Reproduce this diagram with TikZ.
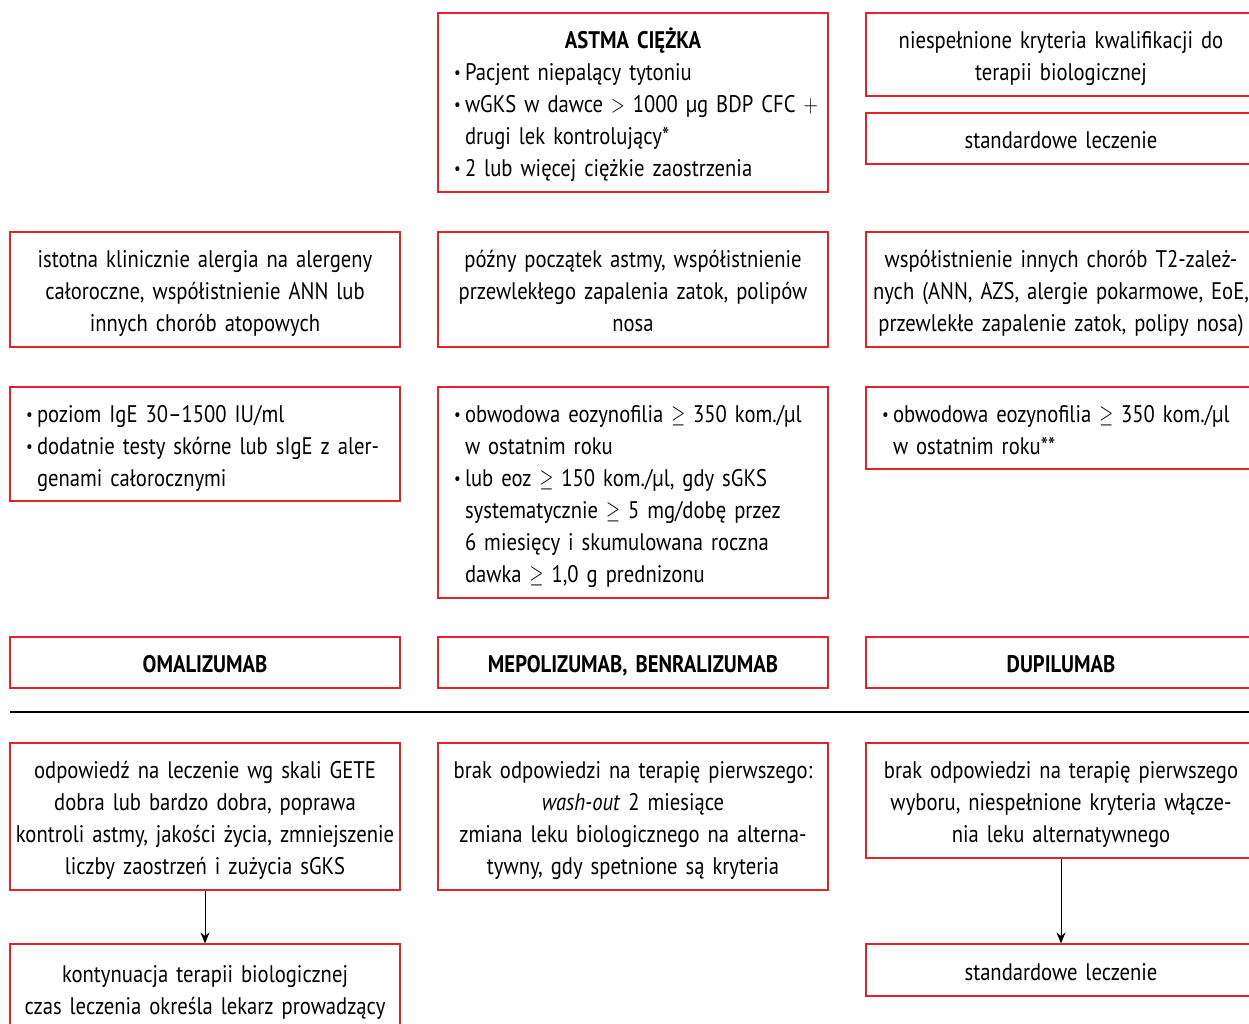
\documentclass[tikz,border=0pt]{standalone}
\usepackage{fontspec}
\setmainfont[FakeStretch=0.86]{PT Sans}
\usetikzlibrary{arrows.meta}
\definecolor{boxred}{RGB}{226,35,42}
\newcommand{\bl}{\hspace*{8pt}\makebox[11pt][l]{\raisebox{1.6pt}{\scalebox{0.72}{•}}}}
\newcommand{\ind}{\hspace*{19pt}}
\newcommand{\mygeq}{\scalebox{0.72}[1]{$\geq$}}
\newcommand{\mygt}{\scalebox{0.72}[1]{$>$}}
\newcommand{\myplus}{\scalebox{0.8}[1]{$+$}}
\newcommand{\st}{\rule{0pt}{26pt}}
\newcommand{\sd}{\rule[-6pt]{0pt}{6pt}}
\newcommand{\tx}[1]{\st#1\sd}
\newcommand{\myfont}{\fontsize{24}{32}\selectfont}
\begin{document}
\begin{tikzpicture}[x=1pt,y=-1pt,
  base/.style={draw=boxred, line width=1.2pt, minimum width=390pt,
    font=\myfont, inner ysep=0pt},
  cbox/.style={base, align=center, text width=380pt, inner xsep=5pt},
  lbox/.style={base, align=left, text width=374pt, inner xsep=8pt},
  arr/.style={-{Stealth[length=11pt,width=9pt]}, line width=1pt}]
\useasboundingbox (0,0) rectangle (1249,1023);
\fill[white] (0,0) rectangle (1249,1023);

% top row
\node[lbox, minimum height=179pt] (astma) at (633,102.5)
  {\st\makebox[374pt]{\textbf{ASTMA CIĘŻKA}}\\
   \bl\mbox{Pacjent niepalący tytoniu}\\
   \bl\mbox{wGKS w dawce \mygt{} 1000 µg BDP CFC \myplus}\\
   \ind\mbox{drugi lek kontrolujący*}\\
   \bl\mbox{2 lub więcej ciężkie zaostrzenia}\sd};
\node[cbox, minimum height=83pt] (niesp) at (1061,54.5)
  {\tx{niespełnione kryteria kwalifikacji do\\terapii biologicznej}};
\node[cbox, minimum height=51pt] (std1) at (1061,138.5)
  {\tx{standardowe leczenie}};

% row 2
\node[cbox, minimum height=115pt] (r2a) at (205,289.5)
  {\tx{istotna klinicznie alergia na alergeny\\całoroczne, współistnienie ANN lub\\innych chorób atopowych}};
\node[cbox, minimum height=115pt] (r2b) at (633,289.5)
  {\tx{późny początek astmy, współistnienie\\przewlekłego zapalenia zatok, polipów\\nosa}};
\node[cbox, minimum height=115pt] (r2c) at (1061,289.5)
  {\tx{współistnienie innych chorób T2-zależ-\\nych (ANN, AZS, alergie pokarmowe, EoE,\\przewlekłe zapalenie zatok, polipy nosa)}};

% row 3
\node[lbox, minimum height=114pt] (r3a) at (205,444)
  {\st\bl\mbox{poziom IgE 30–1500 IU/ml}\\
   \bl\mbox{dodatnie testy skórne lub sIgE z aler-}\\
   \ind\mbox{genami całorocznymi}\sd};
\node[lbox, minimum height=211pt] (r3b) at (633,492.5)
  {\st\bl\mbox{obwodowa eozynofilia \mygeq{} 350 kom./µl}\\
   \ind\mbox{w ostatnim roku}\\
   \bl\mbox{lub eoz \mygeq{} 150 kom./µl, gdy sGKS}\\
   \ind\mbox{systematycznie \mygeq{} 5 mg/dobę przez}\\
   \ind\mbox{6 miesięcy i skumulowana roczna}\\
   \ind\mbox{dawka \mygeq{} 1,0 g prednizonu}\sd};
\node[lbox, minimum height=82pt] (r3c) at (1061,428)
  {\st\bl\mbox{obwodowa eozynofilia \mygeq{} 350 kom./µl}\\
   \ind\mbox{w ostatnim roku**}\sd};

% row 4
\node[cbox, minimum height=51pt] (r4a) at (205,662.5) {\tx{\textbf{OMALIZUMAB}}};
\node[cbox, minimum height=51pt] (r4b) at (633,662.5) {\tx{\textbf{MEPOLIZUMAB, BENRALIZUMAB}}};
\node[cbox, minimum height=51pt] (r4c) at (1061,662.5) {\tx{\textbf{DUPILUMAB}}};

% separator
\coordinate (hl1) at (10,712);
\coordinate (hl2) at (1249,712);
\draw[line width=1.4pt] (hl1) -- (hl2);

% row 5
\node[cbox, minimum height=147pt] (r5a) at (205,816.5)
  {\tx{odpowiedź na leczenie wg skali GETE\\dobra lub bardzo dobra, poprawa\\kontroli astmy, jakości życia, zmniejszenie\\liczby zaostrzeń i zużycia sGKS}};
\node[cbox, minimum height=147pt] (r5b) at (633,816.5)
  {\tx{brak odpowiedzi na terapię pierwszego:\\\textit{wash-out} 2 miesiące\\zmiana leku biologicznego na alterna-\\tywny, gdy spetnione są kryteria}};
\node[cbox, minimum height=115pt] (r5c) at (1061,800.5)
  {\tx{brak odpowiedzi na terapię pierwszego\\wyboru, niespełnione kryteria włącze-\\nia leku alternatywnego}};

% row 6
\node[cbox, minimum height=88pt] (r6a) at (205,988)
  {\tx{kontynuacja terapii biologicznej\\czas leczenia określa lekarz prowadzący}};
\node[cbox, minimum height=52pt] (r6c) at (1061,970)
  {\tx{standardowe leczenie}};

\draw[arr] (r5a) -- (r6a);
\draw[arr] (r5c) -- (r6c);
\end{tikzpicture}
\end{document}
